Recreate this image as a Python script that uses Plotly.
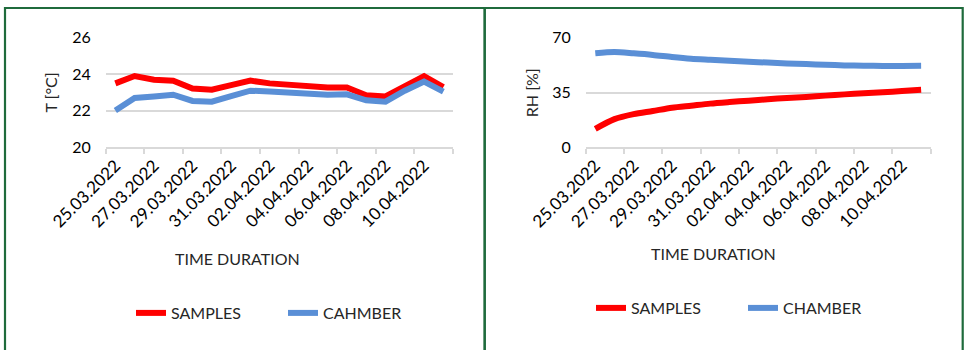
import plotly.graph_objects as go

# ---- data ----
dates = ["25.03.2022", "26.03.2022", "27.03.2022", "28.03.2022", "29.03.2022", "30.03.2022",
         "31.03.2022", "01.04.2022", "02.04.2022", "03.04.2022", "04.04.2022", "05.04.2022",
         "06.04.2022", "07.04.2022", "08.04.2022", "09.04.2022", "10.04.2022", "11.04.2022"]

t_samples = [23.5, 23.9, 23.7, 23.65, 23.22, 23.15, 23.4, 23.65, 23.5, 23.4,
             23.3, 23.27, 23.27, 22.85, 22.78, 23.35, 23.9, 23.3]
t_chamber = [22.02, 22.7, 22.78, 22.88, 22.54, 22.5, 22.8, 23.1, 23.05, 23.0,
             22.9, 22.88, 22.9, 22.57, 22.5, 23.1, 23.6, 23.05]

rh_samples = [11.8, 18.0, 21.2, 23.2, 25.3, 26.6, 27.9, 28.9, 29.8, 30.7,
              31.5, 32.2, 33.0, 33.8, 34.5, 35.2, 35.9, 36.7]
rh_chamber = [60.0, 60.8, 60.0, 59.0, 57.7, 56.6, 55.9, 55.2, 54.6, 54.1,
              53.6, 53.2, 52.7, 52.3, 52.1, 52.0, 52.0, 52.1]

left_names = ["SAMPLES", "CAHMBER"]
right_names = ["SAMPLES", "CHAMBER"]

RED = "#ff0000"
BLUE = "#5a8fd6"
GRID = "#d9d9d9"
FONT = "Lato"

idx = list(range(len(dates)))
label_vals = idx[::2]
label_text = dates[::2]
bound_vals = [i - 0.5 for i in range(0, len(dates) + 1, 2)]

fig = go.Figure()
fig.add_trace(go.Scatter(x=idx, y=t_samples, mode="lines", name=left_names[0],
                         line=dict(color=RED, width=6), xaxis="x", yaxis="y", legend="legend"))
fig.add_trace(go.Scatter(x=idx, y=t_chamber, mode="lines", name=left_names[1],
                         line=dict(color=BLUE, width=6), xaxis="x", yaxis="y", legend="legend"))
fig.add_trace(go.Scatter(x=idx, y=rh_samples, mode="lines", name=right_names[0],
                         line=dict(color=RED, width=6, shape="spline", smoothing=0.8),
                         xaxis="x2", yaxis="y2", legend="legend2"))
fig.add_trace(go.Scatter(x=idx, y=rh_chamber, mode="lines", name=right_names[1],
                         line=dict(color=BLUE, width=6, shape="spline", smoothing=0.8),
                         xaxis="x2", yaxis="y2", legend="legend2"))

W, H = 965, 350
ydom = [1 - 147.3 / H, 1 - 37.7 / H]

def xax(domain, anchor):
    return dict(domain=domain, anchor=anchor, range=[-0.5, len(dates) - 0.5],
                automargin=False,
                tickmode="array", tickvals=label_vals, ticktext=label_text,
                tickangle=-45, ticks="", showgrid=False, zeroline=False,
                showline=True, linecolor=GRID, linewidth=1.5,
                tickfont=dict(family=FONT, size=17, color="#000000"),
                minor=dict(ticks="outside", tickmode="array", tickvals=bound_vals,
                           ticklen=5, tickwidth=1.5, tickcolor=GRID, showgrid=False))

def yax(domain, anchor, rng, dtick):
    return dict(domain=domain, anchor=anchor, range=rng, tickmode="linear",
                automargin=False,
                tick0=rng[0], dtick=dtick, showgrid=True, gridcolor=GRID, gridwidth=1.5,
                zeroline=False, showline=False, ticks="", ticklabelstandoff=14,
                tickfont=dict(family=FONT, size=16, color="#000000"))

title_font = dict(family=FONT, size=16, color="#262626")

fig.update_layout(
    width=W, height=H, margin=dict(l=0, r=0, t=0, b=0, autoexpand=False),
    paper_bgcolor="white", plot_bgcolor="white",
    font=dict(family=FONT, size=16, color="#262626"),
    xaxis=xax([105.7 / W, 453 / W], "y"),
    yaxis=yax(ydom, "x", [20, 26], 2),
    xaxis2=xax([585.7 / W, 930.7 / W], "y2"),
    yaxis2=yax(ydom, "x2", [0, 70], 35),
    legend=dict(orientation="h", x=131 / W, xanchor="left", y=1 - 313 / H, yanchor="middle",
                font=title_font, entrywidth=107, bgcolor="rgba(0,0,0,0)"),
    legend2=dict(orientation="h", x=591 / W, xanchor="left", y=1 - 308 / H, yanchor="middle",
                 font=title_font, entrywidth=107, bgcolor="rgba(0,0,0,0)"),
    showlegend=True,
    annotations=[
        dict(text="T [°C]", xref="paper", yref="paper", x=50 / W, y=1 - 92.5 / H,
             xanchor="center", yanchor="middle",
             textangle=-90, showarrow=False, font=title_font),
        dict(text="RH [%]", xref="paper", yref="paper", x=531.7 / W, y=1 - 92.5 / H,
             xanchor="center", yanchor="middle",
             textangle=-90, showarrow=False, font=title_font),
        dict(text="TIME DURATION", xref="paper", yref="paper", x=237 / W, y=1 - 258 / H,
             xanchor="center", yanchor="middle", showarrow=False, font=title_font),
        dict(text="TIME DURATION", xref="paper", yref="paper", x=713 / W, y=1 - 253 / H,
             xanchor="center", yanchor="middle", showarrow=False, font=title_font),
    ],
    shapes=[
        dict(type="rect", xref="paper", yref="paper", x0=5 / W, x1=484.7 / W,
             y0=-0.05, y1=1 - 8 / H, line=dict(color="#1f6b3c", width=2.2), layer="below"),
        dict(type="rect", xref="paper", yref="paper", x0=484.7 / W, x1=962.7 / W,
             y0=-0.05, y1=1 - 8 / H, line=dict(color="#1f6b3c", width=2.2), layer="below"),
    ],
)

fig.write_html("out.html")
